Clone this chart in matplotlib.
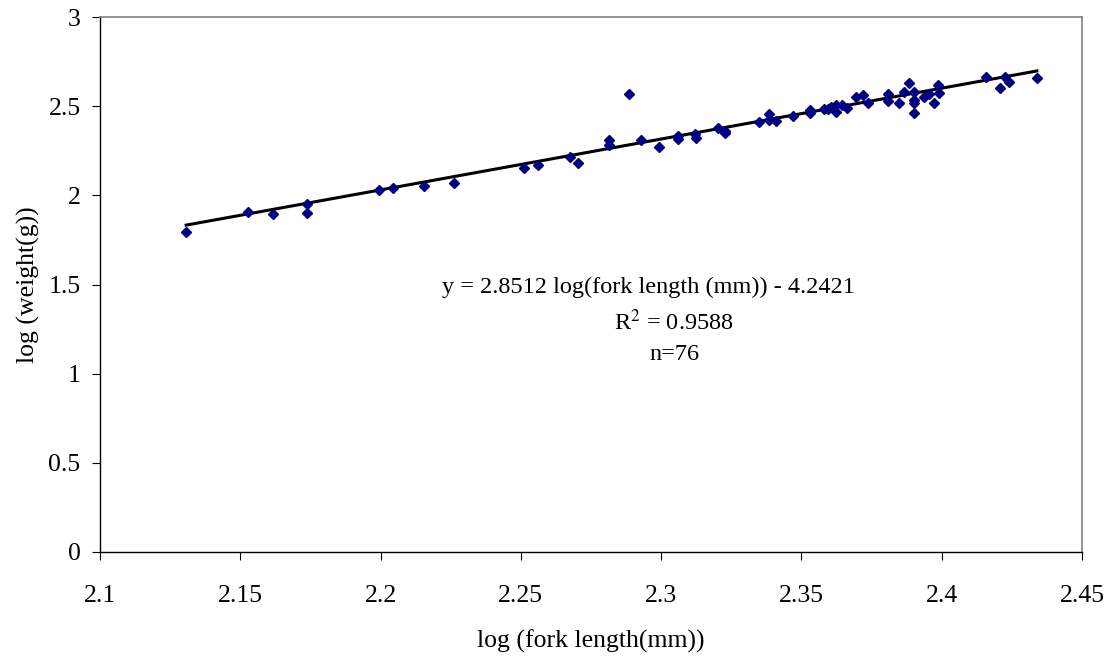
import numpy as np
import matplotlib
matplotlib.use("Agg")
import matplotlib.pyplot as plt

## 포크 길이 / 무게 (log) 데이터
log_fork_length = [
    2.1307, 2.1529, 2.1618, 2.1739, 2.1739, 2.1993, 2.2046, 2.2154, 2.2261,
    2.2511, 2.2561, 2.2675, 2.2704, 2.2814, 2.2814, 2.2886, 2.2929, 2.2993,
    2.3061, 2.3061, 2.3121, 2.3125, 2.3204, 2.3229, 2.3229, 2.3350, 2.3386,
    2.3386, 2.3411, 2.3471, 2.3529, 2.3529, 2.3582, 2.3596, 2.3607, 2.3625,
    2.3625, 2.3643, 2.3661, 2.3696, 2.3721, 2.3736, 2.3807, 2.3807, 2.3846,
    2.3864, 2.3882, 2.3900, 2.3900, 2.3900, 2.3900, 2.3936, 2.3954, 2.3971,
    2.3986, 2.3989, 2.4157, 2.4207, 2.4225, 2.4239, 2.4339,
]
log_weight = [
    1.795, 1.905, 1.895, 1.951, 1.900, 2.030, 2.043, 2.055, 2.069,
    2.153, 2.170, 2.215, 2.181, 2.310, 2.282, 2.568, 2.310, 2.271,
    2.333, 2.316, 2.344, 2.320, 2.378, 2.361, 2.352, 2.411, 2.456,
    2.420, 2.417, 2.445, 2.479, 2.462, 2.484, 2.484, 2.495, 2.507,
    2.466, 2.507, 2.490, 2.552, 2.563, 2.519, 2.568, 2.530, 2.519,
    2.580, 2.632, 2.580, 2.535, 2.519, 2.462, 2.552, 2.568, 2.519,
    2.619, 2.574, 2.664, 2.602, 2.664, 2.636, 2.660,
]

slope = 2.8512
intercept = -4.2421

x_ticks = [2.1, 2.15, 2.2, 2.25, 2.3, 2.35, 2.4, 2.45]
x_tick_labels = ["2.1", "2.15", "2.2", "2.25", "2.3", "2.35", "2.4", "2.45"]
y_ticks = [0, 0.5, 1, 1.5, 2, 2.5, 3]
y_tick_labels = ["0", "0.5", "1", "1.5", "2", "2.5", "3"]

plt.rcParams['font.family'] = ['Liberation Serif', 'DejaVu Serif']
plt.rcParams['mathtext.fontset'] = 'stix'

fig = plt.figure(figsize=(11.14, 6.58), dpi=100)
ax = fig.add_axes([100/1114, 1 - 552/658, (1082 - 100)/1114, (552 - 17)/658])

ax.plot(log_fork_length, log_weight, linestyle='none', marker='D', markersize=5.5,
        color='#000080', markeredgecolor='#000080', zorder=3)

## 회귀선
x_fit = np.array([min(log_fork_length), max(log_fork_length)])
ax.plot(x_fit, slope * x_fit + intercept, color='black', linewidth=2.2, zorder=2)

ax.set_xlim(2.1, 2.45)
ax.set_ylim(0, 3)
ax.set_xticks(x_ticks)
ax.set_xticklabels(x_tick_labels)
ax.set_yticks(y_ticks)
ax.set_yticklabels(y_tick_labels)
ax.tick_params(axis='both', labelsize=18.5, length=6, direction='out')
ax.tick_params(axis='y', pad=8)
ax.tick_params(axis='x', pad=18)

for side in ['top', 'right']:
    ax.spines[side].set_color('#808080')
    ax.spines[side].set_linewidth(1.2)
for side in ['left', 'bottom']:
    ax.spines[side].set_color('black')
    ax.spines[side].set_linewidth(1.0)

ax.set_xlabel('log (fork length(mm))', fontsize=18.5, labelpad=16)
ax.set_ylabel('log (weight(g))', fontsize=18.5, labelpad=6)

ax.text(2.2955, 1.486, 'y = 2.8512 log(fork length (mm)) - 4.2421', fontsize=17.5,
        ha='center', va='center')
ax.text(2.3046, 1.29, r'R$^{2}$ = 0.9588', fontsize=17.5, ha='center', va='center')
ax.text(2.3046, 1.105, 'n=76', fontsize=17.5, ha='center', va='center')

plt.savefig('out.png', dpi=100)
